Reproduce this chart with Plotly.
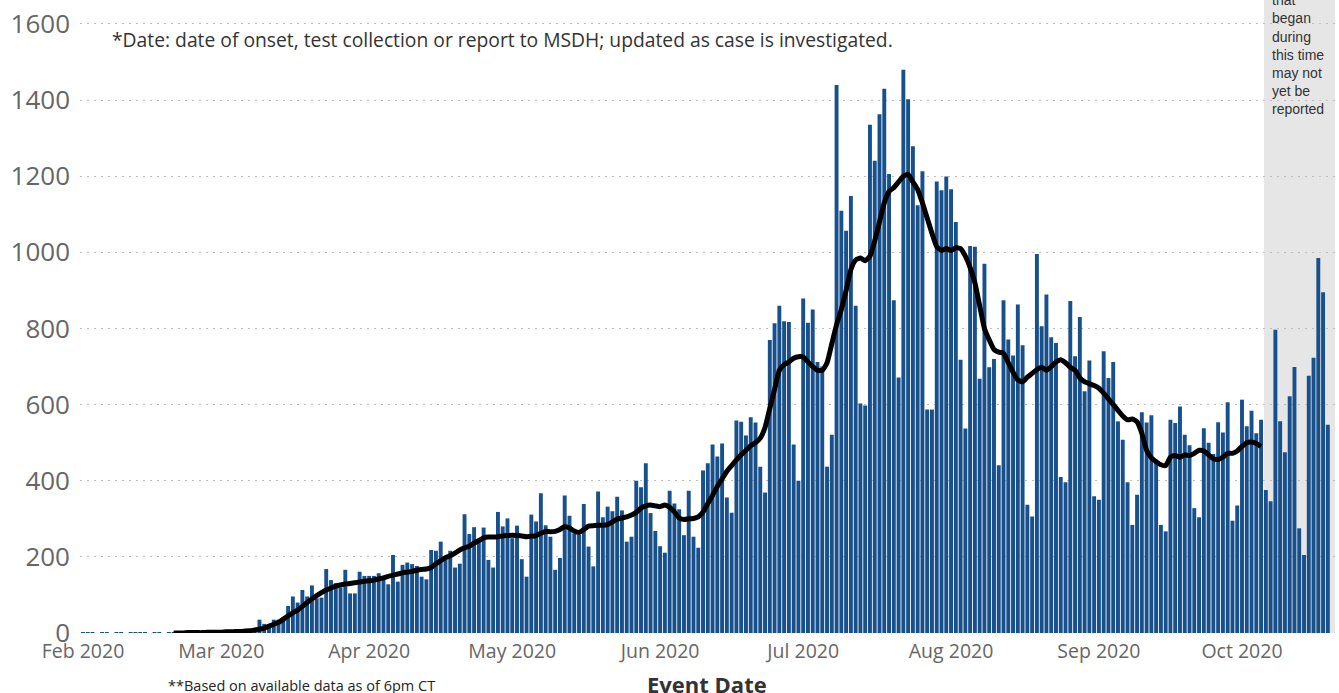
import pandas as pd
import plotly.graph_objects as go

# ---- daily case counts by event date ----
cases_feb = [2, 1, 1, 0, 1, 1, 0, 1, 1, 0, 1, 2, 1, 1, 0, 1, 1, 0, 1, 1, 0, 1, 1, 2, 1, 2, 2, 1, 3]
cases_mar = [5, 2, 3, 4, 6, 4, 8, 12, 35, 24, 23, 35, 35, 41, 71, 96, 80, 113, 96, 125, 91, 93,
             168, 139, 131, 119, 166, 104, 104, 161, 150]
cases_apr = [150, 150, 157, 148, 128, 205, 135, 179, 185, 181, 176, 148, 141, 218, 216, 240,
             192, 216, 172, 182, 312, 260, 278, 245, 277, 192, 172, 318, 280, 301]
cases_may = [249, 282, 194, 148, 311, 293, 367, 283, 253, 166, 197, 361, 308, 262, 258, 339,
             227, 175, 372, 304, 332, 320, 358, 322, 240, 253, 400, 383, 446, 315, 268]
cases_jun = [228, 211, 374, 340, 325, 257, 374, 253, 224, 427, 446, 495, 464, 498, 356, 316,
             558, 555, 519, 567, 553, 437, 369, 770, 814, 860, 819, 817, 495, 400]
cases_jul = [879, 815, 850, 712, 700, 437, 521, 1440, 1109, 1057, 1148, 860, 603, 598, 1335,
             1241, 1363, 1430, 1206, 874, 671, 1480, 1402, 1279, 1124, 1213, 587, 587, 1186,
             1163, 1199]
cases_aug = [1166, 1080, 718, 537, 1017, 1015, 668, 970, 698, 720, 441, 874, 771, 729, 863,
             756, 337, 306, 996, 806, 889, 777, 762, 410, 396, 872, 727, 830, 635, 716, 359]
cases_sep = [350, 740, 670, 712, 556, 508, 396, 284, 363, 580, 553, 572, 455, 284, 267, 560,
             552, 595, 521, 493, 328, 304, 538, 500, 470, 554, 527, 606, 295, 335]
cases_oct = [613, 543, 584, 525, 560, 376, 346, 797, 556, 475, 622, 699, 275, 205, 676, 723,
             985, 895, 547]

# ---- 7-day average line, starts 2020-02-20 ----
avg_feb = [0, 0, 0, 1, 1, 1, 1, 2, 2, 2]
avg_mar = [2, 3, 3, 4, 4, 5, 6, 8, 10, 13, 18, 23, 28, 36, 45, 53, 60, 70, 80, 90, 98, 106,
           113, 118, 123, 126, 129, 130, 132, 134, 136]
avg_apr = [137, 139, 142, 145, 149, 152, 155, 158, 160, 162, 165, 167, 168, 172, 182, 190,
           198, 203, 210, 218, 224, 228, 236, 243, 250, 252, 252, 253, 255, 256]
avg_may = [257, 256, 255, 253, 254, 256, 262, 267, 266, 267, 272, 280, 276, 268, 264, 272,
           281, 282, 283, 283, 285, 292, 299, 302, 305, 310, 317, 328, 334, 336, 334]
avg_jun = [332, 336, 330, 318, 302, 298, 300, 301, 305, 318, 340, 362, 385, 405, 425, 440,
           455, 468, 480, 492, 500, 512, 540, 590, 640, 690, 705, 712, 722, 726]
avg_jul = [725, 712, 700, 690, 690, 710, 760, 810, 850, 900, 955, 980, 985, 978, 990, 1030,
           1080, 1130, 1160, 1170, 1185, 1200, 1205, 1185, 1165, 1130, 1090, 1050, 1015, 1005,
           1010]
avg_aug = [1005, 1012, 1010, 990, 960, 920, 860, 800, 770, 745, 738, 735, 710, 685, 665, 660,
           672, 682, 692, 698, 690, 700, 712, 718, 710, 698, 690, 670, 660, 655, 650]
avg_sep = [643, 630, 615, 600, 585, 570, 560, 562, 555, 525, 480, 460, 450, 442, 440, 462,
           466, 462, 468, 466, 472, 480, 478, 468, 458, 456, 462, 472, 472, 478]
avg_oct = [490, 500, 502, 498, 490]

cases_start = "2020-02-01"
avg_start = "2020-02-20"
incomplete_start = "2020-10-05 15:00"
x_range = ["2020-01-31 09:00", "2020-10-20 12:00"]
y_ticks = [0, 200, 400, 600, 800, 1000, 1200, 1400, 1600]

cases = (cases_feb + cases_mar + cases_apr + cases_may + cases_jun + cases_jul + cases_aug
         + cases_sep + cases_oct)
avg = (avg_feb + avg_mar + avg_apr + avg_may + avg_jun + avg_jul + avg_aug + avg_sep + avg_oct)
case_dates = pd.date_range(cases_start, periods=len(cases), freq="D")
avg_dates = pd.date_range(avg_start, periods=len(avg), freq="D")

FONT = "Segoe UI, Open Sans, Noto Sans, sans-serif"
NARROW = "Segoe UI, Liberation Sans, Arial, sans-serif"

fig = go.Figure()
fig.add_trace(go.Bar(x=case_dates, y=cases, marker=dict(color="#17508B", line=dict(width=0)),
                     name="Cases", hoverinfo="x+y"))
fig.add_trace(go.Scatter(x=avg_dates, y=avg, mode="lines",
                         line=dict(color="#000000", width=5, shape="spline", smoothing=0.5),
                         name="7-day average"))

fig.add_shape(type="rect", xref="x", yref="paper", x0=incomplete_start, x1=x_range[1],
              y0=0, y1=1, fillcolor="#E6E6E6", line=dict(width=0), layer="below")

fig.update_layout(
    width=1339, height=693,
    margin=dict(l=80, r=4, t=0, b=60),
    paper_bgcolor="white", plot_bgcolor="white",
    showlegend=False, bargap=0.18,
    font=dict(family=FONT, color="#666666"),
)
fig.update_xaxes(type="date", range=x_range, tick0="2020-02-01", dtick="M1",
                 tickformat="%b %Y", showgrid=False, zeroline=False, showline=False,
                 ticks="", tickfont=dict(size=19.5, color="#666666"), ticklabelstandoff=4)
fig.update_yaxes(range=[0, 1663], tickvals=y_ticks, showgrid=True, gridcolor="#BDBDBD",
                 griddash="2px,5px", gridwidth=1, zeroline=False, showline=False, ticks="",
                 tickfont=dict(size=26, color="#666666"), ticklabelstandoff=9)

fig.add_annotation(xref="paper", yref="paper", x=0.0239, y=0.938, xanchor="left",
                   yanchor="middle", showarrow=False,
                   text="*Date: date of onset, test collection or report to MSDH; updated as case is investigated.",
                   font=dict(size=19.3, color="#333333", family=FONT))
fig.add_annotation(xref="paper", yref="paper", x=0.0685, y=-0.0837, xanchor="left",
                   yanchor="middle", showarrow=False,
                   text="**Based on available data as of 6pm CT",
                   font=dict(size=14.5, color="#222222", family=FONT))
fig.add_annotation(xref="paper", yref="paper", x=0.4996, y=-0.0806, xanchor="center",
                   yanchor="middle", showarrow=False, text="<b>Event Date</b>",
                   font=dict(size=22, color="#333333", family=FONT))
fig.add_annotation(xref="paper", yref="paper", x=0.9483, y=0.812, xanchor="left",
                   yanchor="bottom", align="left", showarrow=False,
                   text="Cases<br>that<br>began<br>during<br>this time<br>may not<br>yet be<br>reported",
                   font=dict(size=14, color="#333333", family=NARROW))

fig.write_html("out.html", config={"displayModeBar": False},
               post_script="document.body.style.margin='0';")
